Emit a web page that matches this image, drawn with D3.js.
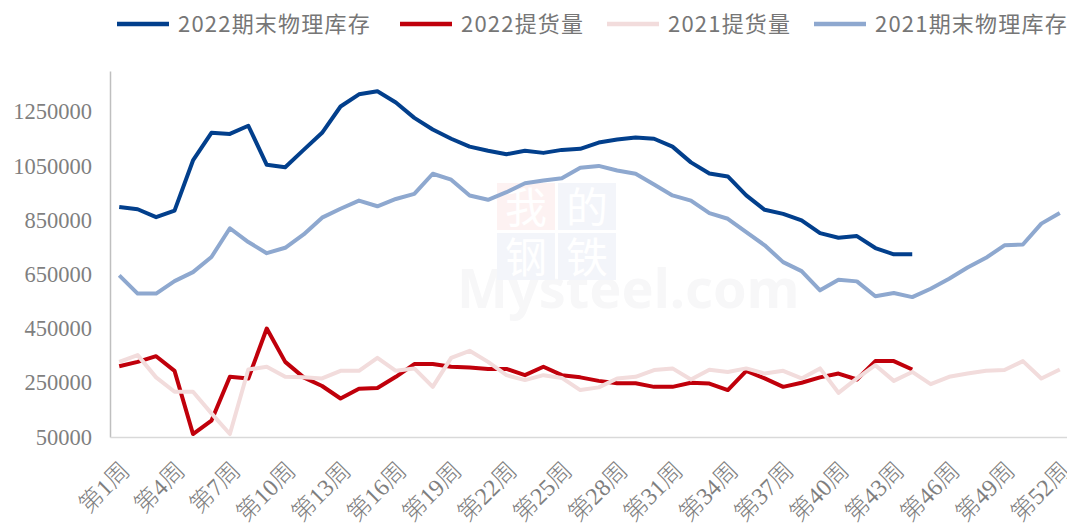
<!DOCTYPE html>
<html>
<head>
<meta charset="utf-8">
<script src="https://cdn.jsdelivr.net/npm/d3@7"></script>
<style>
  body { margin: 0; background: #fff; }
  svg { display: block; }
</style>
</head>
<body>
<svg id="chart" width="1067" height="525"></svg>
<script>
const weeks = d3.range(1, 53).map(i => "第" + i + "周")

const stock2022 = [898000, 890000, 861000, 885000, 1070000, 1172000, 1168000, 1198000, 1054000, 1045000,
  1109000, 1172000, 1269000, 1314000, 1325000, 1284000, 1227000, 1184000, 1150000, 1121000,
  1106000, 1093000, 1106000, 1098000, 1109000, 1113000, 1136000, 1147000, 1155000, 1150000,
  1121000, 1063000, 1022000, 1011000, 941000, 888000, 873000, 849000, 802000, 785000,
  791000, 747000, 724000, 724000]

const pickup2022 = [311000, 327000, 348000, 294000, 61000, 110000, 272000, 266000, 450000, 327000,
  270000, 238000, 192000, 228000, 231000, 272000, 319000, 319000, 309000, 306000,
  301000, 301000, 278000, 309000, 278000, 270000, 257000, 248000, 248000, 235000,
  235000, 250000, 247000, 223000, 294000, 266000, 235000, 250000, 270000, 284000,
  262000, 330000, 330000, 299000]

const pickup2021 = [327000, 352000, 270000, 217000, 217000, 137000, 61000, 299000, 309000, 272000,
  270000, 266000, 294000, 294000, 342000, 294000, 303000, 235000, 342000, 368000,
  327000, 278000, 260000, 278000, 268000, 223000, 233000, 266000, 272000, 297000,
  303000, 262000, 298000, 290000, 303000, 284000, 294000, 266000, 303000, 213000,
  266000, 315000, 257000, 290000, 245000, 272000, 284000, 294000, 297000, 330000,
  266000, 299000]

const stock2021 = [646000, 579000, 579000, 625000, 658000, 714000, 820000, 769000, 728000, 748000,
  797000, 859000, 892000, 922000, 901000, 928000, 947000, 1021000, 999000, 941000,
  925000, 953000, 986000, 996000, 1004000, 1043000, 1050000, 1033000, 1021000, 981000,
  941000, 922000, 876000, 855000, 806000, 757000, 695000, 662000, 591000, 630000,
  624000, 569000, 581000, 566000, 597000, 634000, 675000, 711000, 757000, 760000,
  837000, 876000]

const yTicks = [50000, 250000, 450000, 650000, 850000, 1050000, 1250000]
const xTickWeeks = d3.range(1, 53, 3).map(i => "第" + i + "周")

const series = [
  { name: "2022期末物理库存", values: stock2022, color: "#023f8c" },
  { name: "2022提货量", values: pickup2022, color: "#c0000b" },
  { name: "2021提货量", values: pickup2021, color: "#f2dcdc" },
  { name: "2021期末物理库存", values: stock2021, color: "#8ea8cf" }
]

const svg = d3.select("#chart")
const plotLeft = 110, plotRight = 1069, plotTop = 71, plotBottom = 437

const x = d3.scaleBand().domain(weeks).range([plotLeft, plotRight]).padding(0)
const y = d3.scaleLinear().domain([50000, 1400000]).range([plotBottom, plotTop])

// watermark (faint tiles with white characters + Mysteel.com)
const wm = svg.append("g")
wm.append("text").attr("x", 457).attr("y", 308)
  .attr("font-family", "Noto Sans").attr("font-weight", "bold").attr("font-size", 54)
  .attr("fill", "#f7f7f8").text("Mysteel.com")
const tiles = [["我", 497, 183, "#fdf2f2"], ["的", 558, 183, "#f3f5fa"], ["钢", 497, 233, "#f3f5fa"], ["铁", 558, 233, "#f3f5fa"]]
tiles.forEach(t => {
  wm.append("rect").attr("x", t[1]).attr("y", t[2]).attr("width", 58).attr("height", 47).attr("fill", t[3])
  wm.append("text").attr("x", t[1] + 29).attr("y", t[2] + 40).attr("text-anchor", "middle")
    .attr("font-family", "Noto Sans CJK SC").attr("font-size", 42).attr("fill", "#ffffff").text(t[0])
})

// axes
const yAxis = d3.axisLeft(y).tickValues(yTicks).tickSize(0).tickPadding(18).tickFormat(d3.format("d"))
const gy = svg.append("g").attr("transform", `translate(${plotLeft},0)`).call(yAxis)
gy.select(".domain").attr("stroke", "#bfbfbf").attr("stroke-width", 1.5)
gy.selectAll("text").attr("font-family", "Liberation Serif").attr("font-size", 22.5).attr("fill", "#7f7f7f")

const xAxis = d3.axisBottom(x).tickValues(xTickWeeks).tickSize(0)
const gx = svg.append("g").attr("transform", `translate(0,${plotBottom})`).call(xAxis)
gx.select(".domain").attr("stroke", "#d9d9d9").attr("stroke-width", 1.5)
gx.selectAll("text")
  .attr("font-family", "Liberation Serif, Noto Sans CJK SC")
  .attr("font-size", 24).attr("font-weight", 300).attr("fill", "#7f7f7f")
  .attr("text-anchor", "end")
  .attr("dy", 0).attr("y", 0)
  .attr("transform", "translate(12,35) rotate(-45)")

// lines
const line = d3.line()
  .x((d, i) => x(weeks[i]) + x.bandwidth() / 2)
  .y(d => y(d))

svg.append("g").selectAll("path")
  .data(series)
  .join("path")
  .attr("fill", "none")
  .attr("stroke", d => d.color)
  .attr("stroke-width", 4)
  .attr("stroke-linejoin", "round")
  .attr("d", d => line(d.values))

// legend
const legendX = [117, 400, 607, 814]
const legend = svg.append("g").selectAll("g")
  .data(series)
  .join("g")
  .attr("transform", (d, i) => `translate(${legendX[i]},24)`)
legend.append("line").attr("x1", 0).attr("x2", 52).attr("stroke", d => d.color).attr("stroke-width", 4.5)
legend.append("text")
  .attr("x", 61).attr("y", 8)
  .attr("font-family", "Noto Sans CJK SC").attr("font-size", 22).attr("letter-spacing", 1.2)
  .attr("fill", "#767676")
  .text(d => d.name)
</script>
</body>
</html>
